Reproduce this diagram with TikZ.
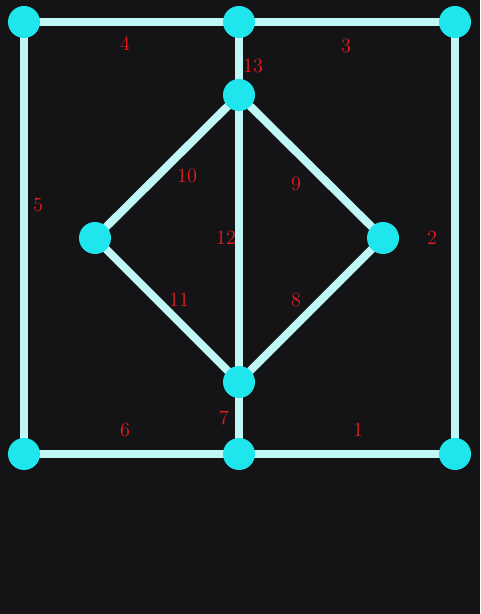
\documentclass[tikz,border=0pt]{standalone}
\usepackage{tikz}
\usetikzlibrary{positioning,calc,backgrounds}
\definecolor{boardbg}{RGB}{20,20,23}
\definecolor{edgecol}{RGB}{192,246,246}
\definecolor{dotcol}{RGB}{30,230,236}
\definecolor{numcol}{RGB}{232,28,28}
\tikzset{
  dot/.style={circle, fill=dotcol, minimum size=0.64cm, inner sep=0pt},
  link/.style={draw=edgecol, line width=0.16cm},
  num/.style={text=numcol, font=\fontsize{11.5}{13}\selectfont, inner sep=0pt}
}
\begin{document}
\begin{tikzpicture}[x=0.02cm, y=-0.02cm]
        % Dots
        \node[dot] (tl) at (24,22) {};
        \node[dot] (tm) at (239,22) {};
        \node[dot] (tr) at (455,22) {};
        \node[dot] (top) at (239,95) {};
        \node[dot] (left) at (95,238) {};
        \node[dot] (right) at (383,238) {};
        \node[dot] (bot) at (239,382) {};
        \node[dot] (bl) at (24,454) {};
        \node[dot] (bm) at (239,454) {};
        \node[dot] (br) at (455,454) {};

        % Numbers
        \node[num] (n1) at (358,430) {1};
        \node[num] (n2) at (432,238) {2};
        \node[num] (n3) at (346,46) {3};
        \node[num] (n4) at (125,44) {4};
        \node[num] (n5) at (38,205) {5};
        \node[num] (n6) at (125,430) {6};
        \node[num] (n7) at (224,418) {7};
        \node[num] (n8) at (296,300) {8};
        \node[num] (n9) at (296,184) {9};
        \node[num] (n10) at (187,176) {10};
        \node[num] (n11) at (179,300) {11};
        \node[num] (n12) at (226,238) {12};
        \node[num] (n13) at (253,66) {13};

        \begin{pgfonlayer}{background}
        % Board
        \fill[boardbg] (0,0) rectangle (480,614);

        % Links
        \draw[link] (tl.center) -- (tm.center) -- (tr.center) -- (br.center)
                    -- (bm.center) -- (bl.center) -- cycle;
        \draw[link] (tm.center) -- (top.center) -- (bot.center) -- (bm.center);
        \draw[link] (top.center) -- (right.center) -- (bot.center) -- (left.center) -- cycle;
        \end{pgfonlayer}
        \useasboundingbox (0,0) rectangle (480,614);
    \end{tikzpicture}
\end{document}
